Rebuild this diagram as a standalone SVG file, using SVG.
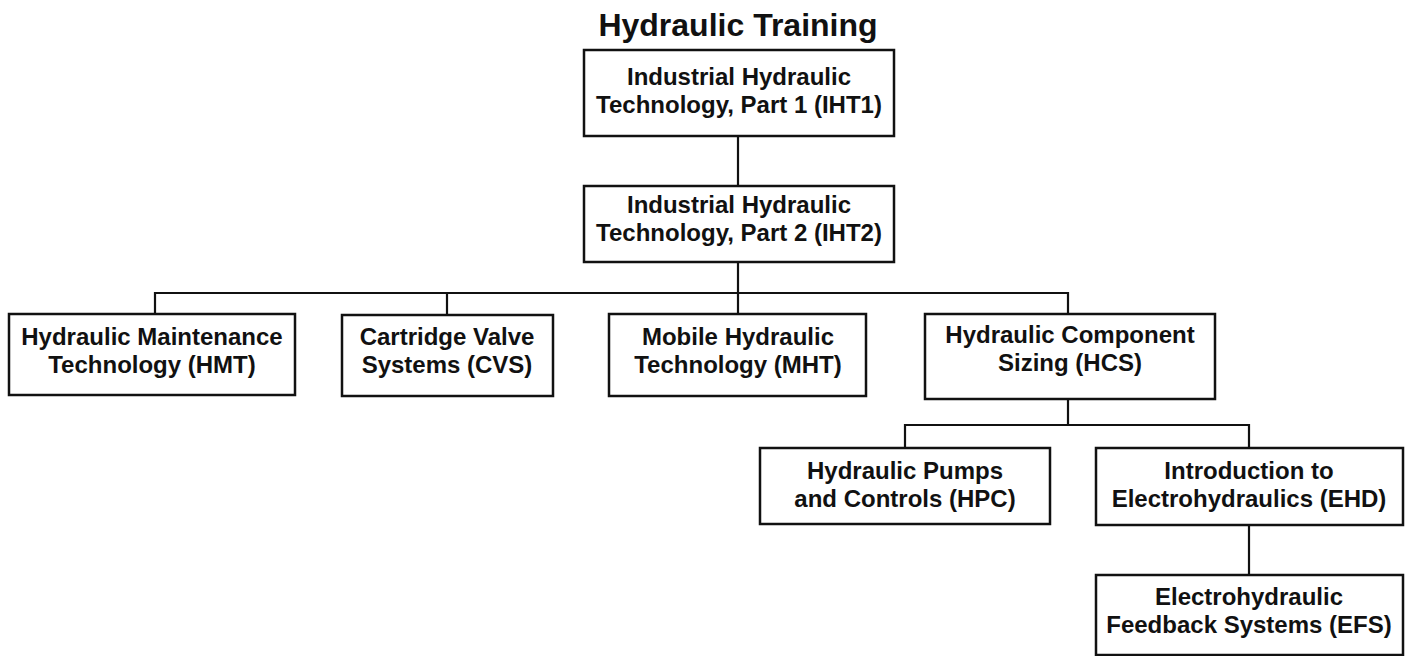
<svg xmlns="http://www.w3.org/2000/svg" width="1413" height="656" viewBox="0 0 1413 656">
<style>
.box{fill:#fff;stroke:#111;stroke-width:2.5}
.lbl{font-family:"Liberation Sans",Arial,sans-serif;font-weight:bold;font-size:24px;fill:#111;text-anchor:middle}
.title{font-family:"Liberation Sans",Arial,sans-serif;font-weight:bold;font-size:32px;fill:#111;text-anchor:middle}
.conn{fill:none;stroke:#111;stroke-width:2.2}
</style>
<rect width="1413" height="656" fill="#fff"/>
<text class="title" x="738" y="36">Hydraulic Training</text>
<g id="connectors">
<path class="conn" d="M738 136V186"/>
<path class="conn" d="M738 262V293"/>
<path class="conn" d="M155 314V293H1068V314"/>
<path class="conn" d="M447 293V315"/>
<path class="conn" d="M738 293V314"/>
<path class="conn" d="M1068 399V425"/>
<path class="conn" d="M905 448V425H1249V448"/>
<path class="conn" d="M1249 525V575"/>
</g>
<g id="iht1">
<rect class="box" x="584" y="50" width="310" height="86"/>
<text class="lbl" x="739" y="85">Industrial Hydraulic</text>
<text class="lbl" x="739" y="113">Technology, Part 1 (IHT1)</text>
</g>
<g id="iht2">
<rect class="box" x="584" y="186" width="310" height="76"/>
<text class="lbl" x="739" y="213">Industrial Hydraulic</text>
<text class="lbl" x="739" y="241">Technology, Part 2 (IHT2)</text>
</g>
<g id="hmt">
<rect class="box" x="9" y="314" width="286" height="81"/>
<text class="lbl" x="152" y="345">Hydraulic Maintenance</text>
<text class="lbl" x="152" y="373">Technology (HMT)</text>
</g>
<g id="cvs">
<rect class="box" x="342" y="315" width="211" height="81"/>
<text class="lbl" x="447" y="345">Cartridge Valve</text>
<text class="lbl" x="447" y="373">Systems (CVS)</text>
</g>
<g id="mht">
<rect class="box" x="609" y="314" width="257" height="82"/>
<text class="lbl" x="738" y="345">Mobile Hydraulic</text>
<text class="lbl" x="738" y="373">Technology (MHT)</text>
</g>
<g id="hcs">
<rect class="box" x="925" y="314" width="290" height="85"/>
<text class="lbl" x="1070" y="343">Hydraulic Component</text>
<text class="lbl" x="1070" y="371">Sizing (HCS)</text>
</g>
<g id="hpc">
<rect class="box" x="760" y="448" width="290" height="76"/>
<text class="lbl" x="905" y="479">Hydraulic Pumps</text>
<text class="lbl" x="905" y="507">and Controls (HPC)</text>
</g>
<g id="ehd">
<rect class="box" x="1096" y="448" width="307" height="77"/>
<text class="lbl" x="1249" y="479">Introduction to</text>
<text class="lbl" x="1249" y="507">Electrohydraulics (EHD)</text>
</g>
<g id="efs">
<rect class="box" x="1096" y="575" width="307" height="80"/>
<text class="lbl" x="1249" y="605">Electrohydraulic</text>
<text class="lbl" x="1249" y="633">Feedback Systems (EFS)</text>
</g>
</svg>
